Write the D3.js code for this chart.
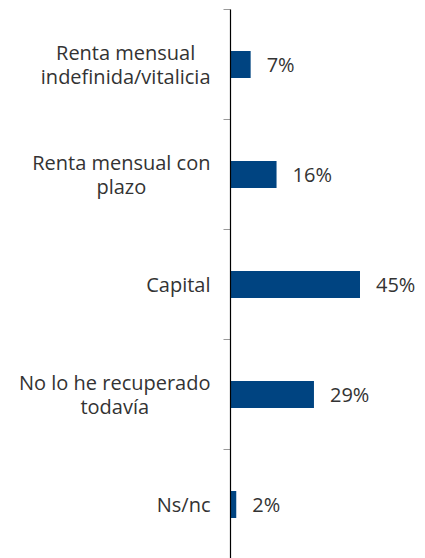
<!DOCTYPE html>
<html>
<head>
<meta charset="utf-8">
<script src="https://cdn.jsdelivr.net/npm/d3@7"></script>
<style>
  body { margin: 0; background: #fff; }
  svg { display: block; font-family: "Open Sans", Lato, sans-serif; }
</style>
</head>
<body>
<div id="chart"></div>
<script>
const categories = [
    'Renta mensual indefinida/vitalicia',
    'Renta mensual con plazo',
    'Capital',
    'No lo he recuperado todavía',
    'Ns/nc'
];
const values = [7, 16, 45, 29, 2];
const valueLabels = ['7%', '16%', '45%', '29%', '2%'];

function wrap(textSel, maxWidth) {
    textSel.each(function (d) {
        const text = d3.select(this);
        const words = d.split(/\s+/);
        const lines = [];
        let line = [];
        const probe = text.append('tspan');
        words.forEach(w => {
            line.push(w);
            probe.text(line.join(' '));
            if (probe.node().getComputedTextLength() > maxWidth && line.length > 1) {
                line.pop();
                lines.push(line.join(' '));
                line = [w];
            }
        });
        lines.push(line.join(' '));
        probe.remove();

        // widest line sets the block, which hugs the axis; lines centred in it
        const widths = lines.map(l => {
            const t = text.append('tspan').text(l);
            const wdt = t.node().getComputedTextLength();
            t.remove();
            return wdt;
        });
        const blockW = d3.max(widths);
        const cx = -20 - blockW / 2;
        const lh = 24;
        const y0 = -(lines.length - 1) * lh / 2 + 7;
        lines.forEach((l, i) => {
            text.append('tspan')
                .attr('x', cx)
                .attr('y', y0 + i * lh)
                .attr('text-anchor', 'middle')
                .text(l);
        });
    });
}

function drawChart() {
    const width = 425, height = 558;
    const axisX = 230.5;

    const svg = d3.select('#chart')
        .append('svg')
        .attr('width', width)
        .attr('height', height);

    const y = d3.scaleBand()
        .domain(categories)
        .range([9.5, 559.5]);

    const x = d3.scaleLinear()
        .domain([0, 45])
        .range([axisX, 360]);

    const barH = 27;

    svg.selectAll('rect.bar')
        .data(values)
        .enter()
        .append('rect')
        .attr('class', 'bar')
        .attr('x', axisX)
        .attr('y', (d, i) => y(categories[i]) + y.bandwidth() / 2 - barH / 2)
        .attr('width', d => x(d) - axisX)
        .attr('height', barH)
        .attr('fill', '#004481');

    // category boundary ticks
    const bounds = categories.map(c => y(c)).concat([y.range()[1]]);
    svg.selectAll('line.tick')
        .data(bounds)
        .enter()
        .append('line')
        .attr('x1', axisX - 7)
        .attr('x2', axisX)
        .attr('y1', d => d)
        .attr('y2', d => d)
        .attr('stroke', '#999')
        .attr('stroke-width', 1);

    svg.append('line')
        .attr('x1', axisX)
        .attr('x2', axisX)
        .attr('y1', y.range()[0])
        .attr('y2', y.range()[1])
        .attr('stroke', '#000')
        .attr('stroke-width', 1.2);

    svg.selectAll('text.value')
        .data(values)
        .enter()
        .append('text')
        .attr('class', 'value')
        .attr('x', d => x(d) + 16)
        .attr('y', (d, i) => y(categories[i]) + y.bandwidth() / 2 + 7)
        .attr('font-size', 20)
        .attr('fill', '#333')
        .text((d, i) => valueLabels[i]);

    svg.selectAll('text.cat')
        .data(categories)
        .enter()
        .append('text')
        .attr('class', 'cat')
        .attr('transform', d => `translate(${axisX},${y(d) + y.bandwidth() / 2})`)
        .attr('font-size', 20)
        .attr('fill', '#333')
        .call(wrap, 205);
}

window.onload = drawChart;
</script>
</body>
</html>
